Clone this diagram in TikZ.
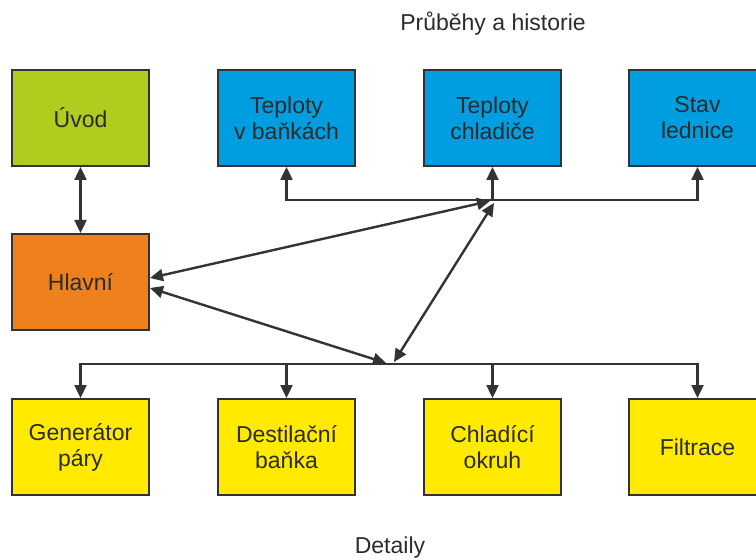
\documentclass[tikz,border=0pt]{standalone}
\usepackage{fontspec}
\setmainfont{Liberation Sans}
\usetikzlibrary{arrows.meta}
\definecolor{txt}{HTML}{2B2B2B}
\definecolor{edge}{HTML}{333333}
\definecolor{cgreen}{HTML}{B1CB1F}
\definecolor{cblue}{HTML}{009EE0}
\definecolor{corange}{HTML}{EE801E}
\definecolor{cyellow}{HTML}{FFEA00}
\tikzset{
  box/.style={draw=edge, line width=2pt, minimum width=137pt, minimum height=96pt,
    inner sep=0pt, align=center, text=txt, font=\fontsize{23}{26}\selectfont},
  arr/.style={draw=edge, line width=2.4pt, -{Triangle[length=13pt,width=12pt]}},
  darr/.style={draw=edge, line width=2.4pt, {Triangle[length=13pt,width=12pt]}-{Triangle[length=13pt,width=12pt]}},
  lbl/.style={text=txt, font=\fontsize{23}{26}\selectfont}
}
\begin{document}
\begin{tikzpicture}[x=1pt,y=-1pt]
\useasboundingbox (0,0) rectangle (756,559);
\node[box, fill=cgreen] (uvod) at (80.5,118) {Úvod};
\node[box, fill=cblue] (t1) at (286.5,118) {Teploty\\v baňkách};
\node[box, fill=cblue] (t2) at (492.5,118) {Teploty\\chladiče};
\node[box, fill=cblue] (t3) at (697.5,118) {Stav\\lednice};
\node[box, fill=corange] (hl) at (80.5,282) {Hlavní};
\node[box, fill=cyellow] (b1) at (80.5,447) {Generátor\\páry};
\node[box, fill=cyellow] (b2) at (286.5,447) {Destilační\\baňka};
\node[box, fill=cyellow] (b3) at (492.5,447) {Chladící\\okruh};
\node[box, fill=cyellow] (b4) at (697.5,447) {Filtrace};
\node[lbl] (title1) at (493,24) {Průběhy a historie};
\node[lbl] (title2) at (390,548) {Detaily};
\coordinate (tb) at (492.5,200);
\coordinate (tin1) at (490,201);
\coordinate (tin2) at (494,203);
\coordinate (bb) at (389,364);
\coordinate (bin1) at (386,363);
\coordinate (bin2) at (394,362);
% top bus
\draw[arr] (tb) -| (t1.south);
\draw[arr] (tb) -- (t2.south);
\draw[arr] (tb) -| (t3.south);
% bottom bus
\draw[arr] (bb) -| (b1.north);
\draw[arr] (bb) -| (b2.north);
\draw[arr] (bb) -| (b3.north);
\draw[arr] (bb) -| (b4.north);
% links
\draw[darr] (uvod.south) -- (hl.north);
\draw[darr] ([yshift=4pt]hl.east) -- (tin1);
\draw[darr] ([yshift=-6pt]hl.east) -- (bin1);
\draw[darr] (tin2) -- (bin2);
\end{tikzpicture}
\end{document}
